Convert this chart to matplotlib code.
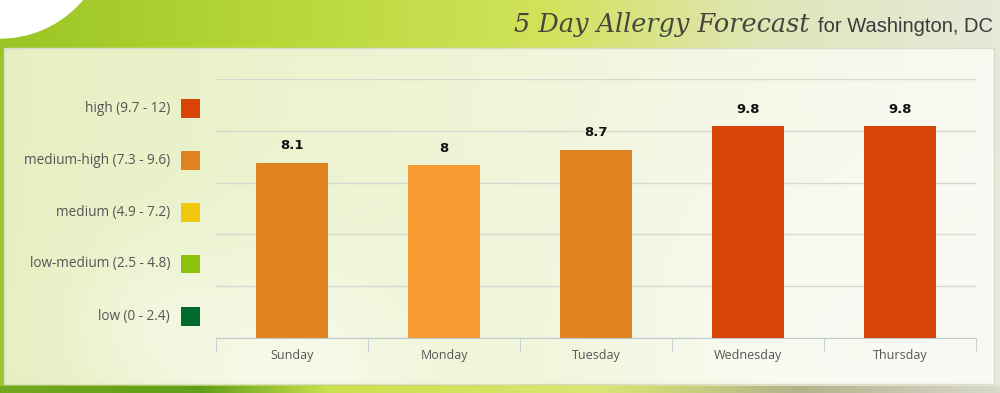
import numpy as np
import matplotlib.pyplot as plt
from matplotlib.patches import Circle, Rectangle

# Data
days = ["Sunday", "Monday", "Tuesday", "Wednesday", "Thursday"]
values = [8.1, 8.0, 8.7, 9.8, 9.8]
value_labels = ["8.1", "8", "8.7", "9.8", "9.8"]

levels = ["low (0 - 2.4)", "low-medium (2.5 - 4.8)", "medium (4.9 - 7.2)",
          "medium-high (7.3 - 9.6)", "high (9.7 - 12)"]
level_lo = [0, 2.5, 4.9, 7.3, 9.7]
level_hi = [2.4, 4.8, 7.2, 9.6, 12]

# Styles
level_colors = ["#006B2D", "#8DC20C", "#F2C80C", "#E0821F", "#D84306"]
bar_colors = ["#E0821F", "#F99B33", "#E0821F", "#D84306", "#D84306"]

W, H = 1000, 393
fig = plt.figure(figsize=(W / 100, H / 100), dpi=100)

# background: outer green + inner panel
bg = fig.add_axes([0, 0, 1, 1])
bg.set_xlim(0, W)
bg.set_ylim(H, 0)
bg.axis("off")

yy, xx = np.mgrid[0:H, 0:W].astype(float)


def grad(x, stops):
    pos = [s[0] for s in stops]
    return np.stack([np.interp(x, pos, [s[1][c] for s in stops]) for c in range(3)], -1)


outer = grad(xx, [(0, (0.60, 0.77, 0.14)), (250, (0.71, 0.84, 0.21)),
                  (550, (0.82, 0.89, 0.36)), (760, (0.88, 0.90, 0.72)),
                  (1000, (0.91, 0.91, 0.86))])
bottom = grad(xx, [(0, (0.45, 0.66, 0.12)), (200, (0.38, 0.62, 0.10)),
                   (330, (0.80, 0.88, 0.30)), (600, (0.86, 0.90, 0.45)),
                   (800, (0.70, 0.70, 0.55)), (1000, (0.85, 0.85, 0.80))])
outer = np.where((yy > 385)[..., None], bottom, outer)
panel = grad(xx, [(0, (0.90, 0.94, 0.76)), (450, (0.94, 0.96, 0.84)),
                  (1000, (0.975, 0.975, 0.95))])
# soft light blobs like blurred petals
for cx, cy, s, a in [(290, 380, 90, 0.55), (820, 340, 130, 0.45), (150, 320, 55, 0.3)]:
    g = a * np.exp(-((xx - cx) ** 2 + (yy - cy) ** 2) / (2 * s ** 2))
    panel = panel + (1 - panel) * g[..., None]
inside = (xx >= 4) & (xx <= 994) & (yy >= 48) & (yy <= 384)
img = np.where(inside[..., None], panel, outer)
bg.imshow(img, extent=(0, W, H, 0), aspect="auto", interpolation="bilinear")
bg.add_patch(Rectangle((4, 48), 990, 336, fill=False, ec="#D9DCCB", lw=1))
bg.add_patch(Circle((0, -70), 108, color="white"))

# title
bg.text(993, 32, "for Washington, DC", ha="right", va="baseline",
        fontsize=14.5, color="#3A3A3A", family="Liberation Sans")
bg.text(809, 32, "5 Day Allergy Forecast", ha="right", va="baseline",
        fontsize=18.4, color="#46463C", family="DejaVu Serif", style="italic")

# main chart
ax = fig.add_axes([216 / W, (H - 338) / H, 760 / W, 259 / H])
ax.patch.set_alpha(0)
x = np.arange(len(days))
ax.bar(x, values, width=0.48, color=bar_colors, zorder=3)
for i, (v, lab) in enumerate(zip(values, value_labels)):
    ax.text(i, v + 0.5, lab, ha="center", va="bottom", fontsize=9.5,
            fontweight="bold", color="#111111")

ax.set_xlim(-0.5, len(days) - 0.5)
ax.set_ylim(0, 12)
ax.set_yticks(np.arange(0, 12.01, 2.4))
ax.set_yticklabels([])
ax.tick_params(axis="y", length=0)
ax.yaxis.grid(True, color="#D6D9CF", lw=1)
ax.set_axisbelow(True)
for s in ["top", "right", "left"]:
    ax.spines[s].set_visible(False)
ax.spines["bottom"].set_color("#BFCBD3")
ax.set_xticks(x)
ax.set_xticklabels(days, fontsize=9, color="#555555", family="Open Sans")
ax.set_xticks(np.arange(-0.5, len(days)), minor=True)
ax.tick_params(axis="x", which="major", length=0, pad=8)
ax.tick_params(axis="x", which="minor", length=10, color="#BFCBD3")

# legend
lax = fig.add_axes([0, (H - 338) / H, 216 / W, 259 / H])
lax.set_xlim(0, 216)
lax.set_ylim(0, 12)
lax.axis("off")
ly = [(lo + hi) / 2 - 0.22 for lo, hi in zip(level_lo, level_hi)]
lax.scatter([190.5] * len(levels), ly, marker="s", s=13.5 ** 2, c=level_colors,
            linewidths=0)
for name, yv in zip(levels, ly):
    lax.text(170, yv, name, ha="right", va="center", fontsize=9.8,
             color="#555555", family="Open Sans")

fig.savefig("out.png", dpi=100)
